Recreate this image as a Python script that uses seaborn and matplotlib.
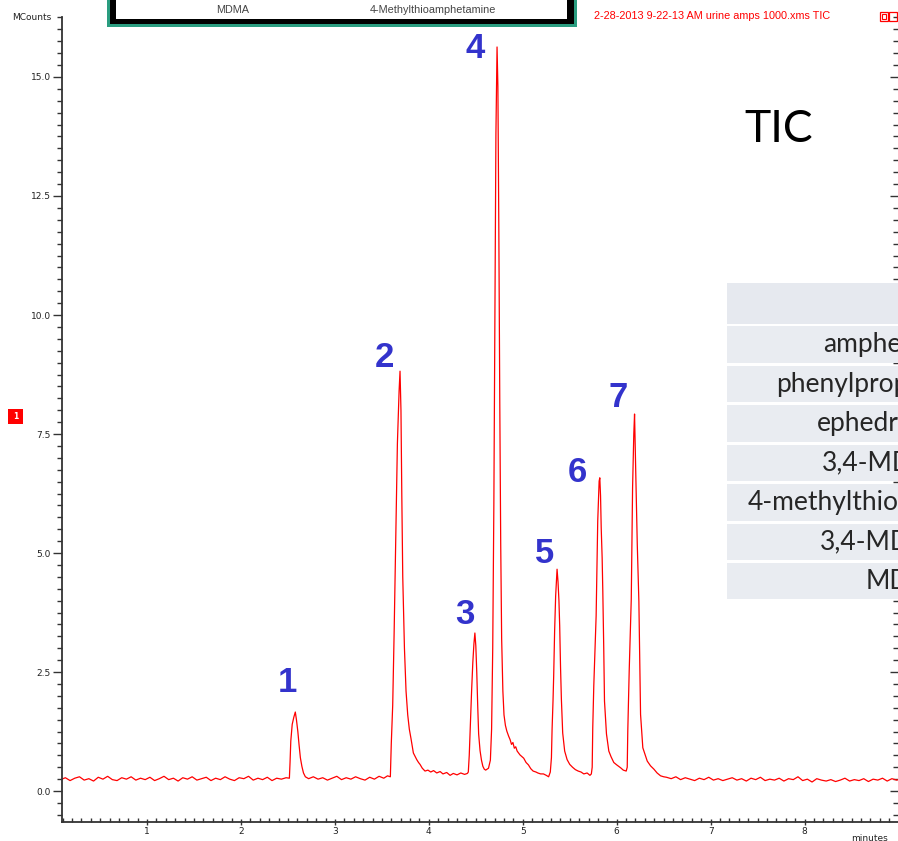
import matplotlib
matplotlib.use("Agg")
import matplotlib.pyplot as plt
from matplotlib.patches import Rectangle
from matplotlib.ticker import MultipleLocator, FormatStrFormatter
import seaborn as sns
import pandas as pd

# ---- chromatogram trace (minutes, MCounts) ----
base_a_t = [0.08, 0.13, 0.18, 0.23, 0.28, 0.33, 0.38, 0.43, 0.48, 0.53,
            0.58, 0.63, 0.68, 0.73, 0.78, 0.83, 0.88, 0.93, 0.98, 1.03,
            1.08, 1.13, 1.18, 1.23, 1.28, 1.33, 1.38, 1.43, 1.48, 1.53,
            1.58, 1.63, 1.68, 1.73, 1.78, 1.83, 1.88, 1.93, 1.98, 2.03,
            2.08, 2.13, 2.18, 2.23, 2.28, 2.33, 2.38, 2.43, 2.48]
base_a_y = [0.24, 0.28, 0.22, 0.27, 0.30, 0.23, 0.26, 0.21, 0.29, 0.25,
            0.31, 0.24, 0.22, 0.28, 0.25, 0.30, 0.23, 0.27, 0.24, 0.29,
            0.22, 0.26, 0.31, 0.24, 0.27, 0.21, 0.28, 0.25, 0.30, 0.23,
            0.26, 0.29, 0.22, 0.27, 0.24, 0.30, 0.25, 0.22, 0.28, 0.26,
            0.31, 0.23, 0.27, 0.24, 0.29, 0.22, 0.27, 0.25, 0.28]

peak1_t = [2.515, 2.522, 2.530, 2.545, 2.562, 2.578, 2.590, 2.605, 2.618, 2.632, 2.648, 2.665, 2.685]
peak1_y = [0.27, 0.60, 1.05, 1.40, 1.55, 1.66, 1.50, 1.25, 0.97, 0.70, 0.52, 0.38, 0.30]

base_b_t = [2.72, 2.77, 2.82, 2.87, 2.92, 2.97, 3.02, 3.07, 3.12, 3.17, 3.22, 3.27, 3.32, 3.37, 3.42, 3.47, 3.52, 3.56]
base_b_y = [0.26, 0.30, 0.25, 0.28, 0.23, 0.27, 0.31, 0.24, 0.28, 0.25, 0.30, 0.26, 0.23, 0.29, 0.25, 0.31, 0.27, 0.32]

peak2_t = [3.590, 3.600, 3.615, 3.630, 3.648, 3.665, 3.683, 3.693, 3.703, 3.712, 3.722, 3.740,
           3.757, 3.775, 3.792, 3.810, 3.835, 3.855, 3.871, 3.890, 3.906, 3.930, 3.959, 3.990,
           4.020, 4.050, 4.084, 4.120, 4.150, 4.190, 4.226, 4.260, 4.300, 4.340, 4.380, 4.410]
peak2_y = [0.30, 1.00, 1.80, 3.30, 5.40, 7.30, 8.40, 8.82, 8.00, 6.20, 4.50, 3.00,
           2.10, 1.60, 1.30, 1.10, 0.80, 0.72, 0.66, 0.60, 0.56, 0.48, 0.42, 0.44,
           0.40, 0.43, 0.38, 0.41, 0.36, 0.39, 0.33, 0.37, 0.34, 0.38, 0.35, 0.37]

peak3_t = [4.420, 4.430, 4.440, 4.455, 4.468, 4.480, 4.490, 4.500, 4.510, 4.520, 4.530, 4.545,
           4.560, 4.575, 4.590, 4.605, 4.620]
peak3_y = [0.40, 0.75, 1.30, 2.10, 2.70, 3.10, 3.32, 3.05, 2.50, 1.80, 1.20, 0.85,
           0.65, 0.52, 0.46, 0.44, 0.46]

peak4_t = [4.635, 4.655, 4.668, 4.680, 4.692, 4.703, 4.714, 4.726, 4.735, 4.745, 4.755, 4.765,
           4.775, 4.788, 4.800, 4.815, 4.830, 4.850, 4.865, 4.880, 4.895, 4.910, 4.925, 4.940,
           4.970, 5.010, 5.035, 5.060, 5.085, 5.110, 5.140, 5.160, 5.190, 5.220, 5.250, 5.275]
peak4_y = [0.48, 0.65, 1.30, 3.00, 6.00, 10.00, 13.80, 15.63, 14.80, 11.80, 8.20, 5.20,
           3.20, 2.10, 1.60, 1.38, 1.26, 1.15, 1.08, 0.98, 1.02, 0.90, 0.93, 0.84,
           0.76, 0.69, 0.60, 0.55, 0.47, 0.42, 0.40, 0.38, 0.36, 0.36, 0.33, 0.30]

peak5_t = [5.293, 5.305, 5.312, 5.322, 5.329, 5.339, 5.350, 5.365, 5.375, 5.385, 5.393, 5.402,
           5.411, 5.425, 5.446, 5.472, 5.500, 5.530, 5.560, 5.590, 5.620, 5.650, 5.685, 5.715, 5.730]
peak5_y = [0.40, 0.70, 1.30, 1.90, 2.42, 3.36, 4.10, 4.66, 4.40, 4.00, 3.47, 2.60,
           1.93, 1.22, 0.84, 0.66, 0.56, 0.50, 0.45, 0.42, 0.40, 0.36, 0.38, 0.33, 0.36]

peak6_t = [5.739, 5.745, 5.756, 5.770, 5.781, 5.798, 5.813, 5.820, 5.828, 5.835, 5.845, 5.852,
           5.862, 5.870, 5.891, 5.916, 5.940, 5.969, 6.000, 6.041, 6.070, 6.101]
peak6_y = [0.50, 1.33, 2.21, 3.00, 3.68, 5.67, 6.51, 6.58, 6.20, 5.53, 4.90, 4.20,
           3.00, 1.89, 1.20, 0.84, 0.72, 0.60, 0.55, 0.49, 0.44, 0.42]

peak7_t = [6.112, 6.118, 6.133, 6.155, 6.169, 6.182, 6.190, 6.197, 6.204, 6.219, 6.236, 6.254,
           6.278, 6.300, 6.325, 6.360, 6.396, 6.430, 6.467, 6.500]
peak7_y = [0.50, 1.26, 2.52, 4.03, 6.37, 7.50, 7.92, 7.30, 6.58, 5.18, 3.99, 1.61,
           0.91, 0.78, 0.63, 0.53, 0.46, 0.38, 0.32, 0.30]

base_c_t = [6.53, 6.58, 6.63, 6.68, 6.73, 6.78, 6.83, 6.88, 6.93, 6.98,
            7.03, 7.08, 7.13, 7.18, 7.23, 7.28, 7.33, 7.38, 7.43, 7.48,
            7.53, 7.58, 7.63, 7.68, 7.73, 7.78, 7.83, 7.88, 7.93, 7.98,
            8.03, 8.08, 8.13, 8.18, 8.23, 8.28, 8.33, 8.38, 8.43, 8.48,
            8.53, 8.58, 8.63, 8.68, 8.73, 8.78, 8.83, 8.88, 8.93, 8.98, 9.02]
base_c_y = [0.29, 0.26, 0.30, 0.24, 0.28, 0.25, 0.22, 0.27, 0.24, 0.29,
            0.23, 0.26, 0.22, 0.25, 0.28, 0.23, 0.26, 0.21, 0.27, 0.24,
            0.29, 0.22, 0.25, 0.23, 0.27, 0.21, 0.26, 0.24, 0.30, 0.22,
            0.25, 0.19, 0.26, 0.23, 0.21, 0.24, 0.20, 0.23, 0.27, 0.21,
            0.24, 0.22, 0.26, 0.20, 0.25, 0.23, 0.27, 0.21, 0.26, 0.23, 0.25]

# peak numbering (apex of each peak)
peak_labels = ["1", "2", "3", "4", "5", "6", "7"]
peak_apex_t = [2.578, 3.693, 4.490, 4.726, 5.365, 5.820, 6.190]
peak_apex_y = [1.66, 8.82, 3.32, 15.63, 4.66, 6.58, 7.92]
label_offsets = [(-6, 21), (-11, 10), (-7, 13), (-16, -1), (-9, 11), (-16, 4), (-12, 12)]

# compound table on the right (cut off by the slide edge)
compounds = ["amphetamine", "phenylpropanolamine", "ephedrine", "3,4-MDA",
             "4-methylthioamphetamine", "3,4-MDMA", "MDEA"]
compound_x = [823, 776, 817, 822, 748, 820, 866]

header_text = "2-28-2013 9-22-13 AM urine amps 1000.xms TIC"
box_names = ["MDMA", "4-Methylthioamphetamine"]

trace = pd.DataFrame({
    "minutes": base_a_t + peak1_t + base_b_t + peak2_t + peak3_t + peak4_t
               + peak5_t + peak6_t + peak7_t + base_c_t,
    "MCounts": base_a_y + peak1_y + base_b_y + peak2_y + peak3_y + peak4_y
               + peak5_y + peak6_y + peak7_y + base_c_y,
})

sns.set_style("ticks")
plt.rcParams["font.family"] = ["DejaVu Sans"]

W, H = 898, 841
fig = plt.figure(figsize=(W / 100, H / 100), dpi=100)


def fx(px):
    return px / W


def fy(py):
    return 1 - py / H


ax = fig.add_axes([fx(62), fy(822), fx(898) - fx(62), fy(17) - fy(822)])
sns.lineplot(data=trace, x="minutes", y="MCounts", ax=ax, color="#ff0000",
             lw=0.9, estimator=None, sort=False)
ax.set_xlim(0.094, 8.995)
ax.set_ylim(-0.65, 16.26)
ax.set_xlabel("")
ax.set_ylabel("")

ax.xaxis.set_major_locator(MultipleLocator(1))
ax.xaxis.set_minor_locator(MultipleLocator(0.1))
ax.xaxis.set_major_formatter(FormatStrFormatter("%d"))
ax.yaxis.set_major_locator(MultipleLocator(2.5))
ax.yaxis.set_minor_locator(MultipleLocator(0.25))
ax.yaxis.set_major_formatter(FormatStrFormatter("%.1f"))

for side in ["top", "right"]:
    ax.spines[side].set_visible(False)
for side in ["left", "bottom"]:
    ax.spines[side].set_color("#333333")
    ax.spines[side].set_linewidth(1.3)

ax.tick_params(axis="y", which="major", direction="out", length=6.5, width=1, color="#333333",
               labelsize=6.5, pad=1.5, labelcolor="#222222")
ax.tick_params(axis="y", which="minor", direction="out", length=3.6, width=1, color="#333333")
ax.tick_params(axis="x", which="major", direction="inout", length=5, width=1, color="#333333",
               labelsize=6.5, pad=1, labelcolor="#222222")
ax.tick_params(axis="x", which="minor", direction="in", length=3, width=1, color="#333333")

# right-hand tick marks
axr = ax.twinx()
axr.set_ylim(ax.get_ylim())
axr.yaxis.set_major_locator(MultipleLocator(2.5))
axr.yaxis.set_minor_locator(MultipleLocator(0.25))
for side in axr.spines:
    axr.spines[side].set_visible(False)
axr.tick_params(axis="y", which="major", direction="in", length=6, width=1, color="#333333",
                labelright=False)
axr.tick_params(axis="y", which="minor", direction="in", length=3.5, width=1, color="#333333")
ax.set_zorder(axr.get_zorder() + 1)
ax.patch.set_visible(False)

# peak numbers
for lab, t, y, off in zip(peak_labels, peak_apex_t, peak_apex_y, label_offsets):
    ax.annotate(lab, (t, y), xytext=off, textcoords="offset points", ha="center", va="center",
                fontsize=25, fontweight="bold", color="#3333cc", family=["Liberation Sans"])

# axis captions
fig.text(fx(51), fy(17), "MCounts", ha="right", va="center", fontsize=6.5, color="#222222")
fig.text(fx(851), fy(834), "minutes", ha="left", va="top", fontsize=6.5, color="#222222")
fig.text(fx(594), fy(16), header_text, ha="left", va="center", fontsize=7.8, color="#ff0000",
         family=["Liberation Sans"])

# small red icons
fig.patches.append(Rectangle((fx(8), fy(424)), fx(15), fy(409) - fy(424), transform=fig.transFigure,
                             facecolor="#ff0000", edgecolor="none"))
fig.text(fx(15.5), fy(416.5), "1", ha="center", va="center", fontsize=5.5, color="white", fontweight="bold")
for x0 in [880, 889]:
    fig.patches.append(Rectangle((fx(x0), fy(21)), fx(8), fy(12) - fy(21), transform=fig.transFigure,
                                 facecolor="none", edgecolor="#ff0000", lw=0.9))
fig.patches.append(Rectangle((fx(882), fy(19)), fx(4), fy(14) - fy(19), transform=fig.transFigure,
                             facecolor="none", edgecolor="#ff0000", lw=0.8))

# structure box at top (cut off)
for x0, x1, y1, col in [(107, 577, 27, "#2a9d80"), (110, 574, 24, "#000000"), (116, 567, 19, "#ffffff")]:
    fig.patches.append(Rectangle((fx(x0), fy(y1)), fx(x1 - x0), fy(-10) - fy(y1),
                                 transform=fig.transFigure, facecolor=col, edgecolor="none"))
fig.text(fx(233), fy(10), box_names[0], ha="center", va="center", fontsize=7.8, color="#444444",
         family=["Liberation Sans"])
fig.text(fx(433), fy(10), box_names[1], ha="center", va="center", fontsize=7.8, color="#444444",
         family=["Liberation Sans"])

fig.text(fx(744), fy(130), "TIC", ha="left", va="center", fontsize=32, color="#000000", family=["Lato"])

# compound table
row_top = 325
row_h = 39.4
fig.patches.append(Rectangle((fx(727), fy(323.5)), fx(200), fy(283) - fy(323.5), transform=fig.transFigure,
                             facecolor="#e6e9ef", edgecolor="none"))
for i, (name, x0) in enumerate(zip(compounds, compound_x)):
    top = row_top + i * row_h + 1.5
    bot = row_top + (i + 1) * row_h - 1.5
    fig.patches.append(Rectangle((fx(727), fy(bot)), fx(200), fy(top) - fy(bot), transform=fig.transFigure,
                                 facecolor="#e9ecf1", edgecolor="none"))
    fig.text(fx(x0), fy((top + bot) / 2), name, ha="left", va="center", fontsize=19,
             color="#262626", family=["Lato"])

fig.savefig("out.png", dpi=100)
